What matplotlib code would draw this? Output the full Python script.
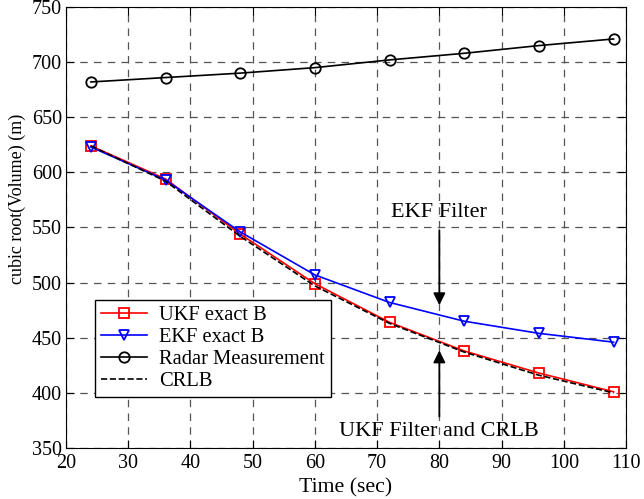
import numpy as np
import matplotlib.pyplot as plt

plt.rcParams['font.family'] = ['Liberation Serif', 'DejaVu Serif']

time_sec = [24, 36, 48, 60, 72, 84, 96, 108]
ukf_exact_b = [624, 594, 544, 499, 464, 438, 418, 401]
ekf_exact_b = [623, 593, 546, 507, 482, 465, 454, 446]
radar_meas = [682, 686, 690, 695, 702, 708, 715, 721]
crlb = [624, 592, 542, 497, 463, 437, 416, 400]

fig = plt.figure(figsize=(6.44, 4.99), dpi=100)
ax = fig.add_axes([0.1025, 0.1022, 0.8696, 0.8838])

ax.plot(time_sec, ukf_exact_b, '-s', color='red', markerfacecolor='none', markersize=7.5, markeredgewidth=1.3, linewidth=1.2, label='UKF exact B')
ax.plot(time_sec, ekf_exact_b, '-v', color='blue', markerfacecolor='none', markersize=7, markeredgewidth=1.3, linewidth=1.2, label='EKF exact B')
ax.plot(time_sec, radar_meas, '-o', color='black', markerfacecolor='none', markersize=7.5, markeredgewidth=1.3, linewidth=1.2, label='Radar Measurement')
ax.plot(time_sec, crlb, '--', color='black', linewidth=1.2, label='CRLB')

ax.annotate('', xy=(80, 477), xytext=(80, 550),
            arrowprops=dict(arrowstyle='-|>', color='black', lw=1.3, mutation_scale=18))
ax.text(80, 564, 'EKF Filter', ha='center', va='center', fontsize=16)
ax.annotate('', xy=(80, 441), xytext=(80, 376),
            arrowprops=dict(arrowstyle='-|>', color='black', lw=1.3, mutation_scale=18))
ax.text(80, 365, 'UKF Filter and CRLB', ha='center', va='center', fontsize=16)

ax.set_xlim(20, 110)
ax.set_ylim(350, 750)
ax.set_xticks(np.arange(20, 111, 10))
ax.set_yticks(np.arange(350, 751, 50))
ax.grid(True, linestyle=(0, (6, 5)), color='#555555', linewidth=0.9)
ax.tick_params(direction='in', top=True, right=True, labelsize=14.5, length=6)
ax.tick_params(axis='x', pad=4)
ax.tick_params(axis='y', pad=3)
ax.set_xlabel('Time (sec)', fontsize=15.7, labelpad=4)
ax.set_ylabel('cubic root(Volume) (m)', fontsize=13)
ax.yaxis.set_label_coords(-0.072, 0.565)

ax.legend(loc='upper left', bbox_to_anchor=(0.052, 0.336), fontsize=14.8, frameon=True,
          fancybox=False, edgecolor='black', framealpha=1, handlelength=2.2,
          borderpad=0.3, labelspacing=0.12, handletextpad=0.6, borderaxespad=0)

fig.savefig('out.png', dpi=100)
